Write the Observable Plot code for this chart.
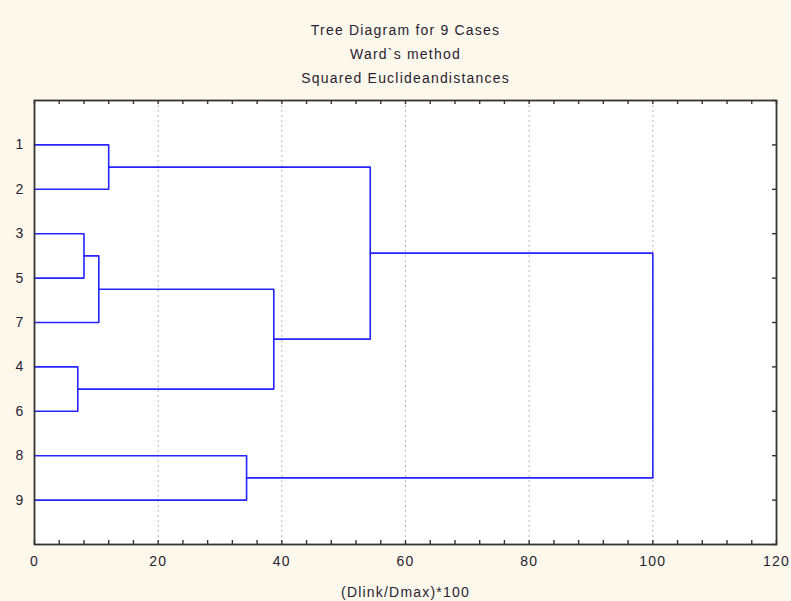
<!DOCTYPE html>
<html>
<head>
<meta charset="utf-8">
<script src="https://cdn.jsdelivr.net/npm/d3@7"></script>
<script src="https://cdn.jsdelivr.net/npm/@observablehq/plot@0.6"></script>
<style>
  html, body { margin: 0; padding: 0; background: #fcf8ec; }
  #chart svg { display: block; }
</style>
</head>
<body>
<div id="chart"></div>
<script>
// ---- data ----
const titleLines = ["Tree Diagram for 9 Cases", "Ward`s method", "Squared Euclideandistances"];
const xLabel = "(Dlink/Dmax)*100";
const leafOrder = ["1", "2", "3", "5", "7", "4", "6", "8", "9"];       // top to bottom
// merges (linkage): child A, child B, linkage distance  (m1..m8 = merge results)
const mergeA      = ["1",  "3", "m2", "4", "m3", "m1", "8",  "m6"];
const mergeB      = ["2",  "5", "7",  "6", "m4", "m5", "9",  "m7"];
const mergeHeight = [12.0, 8.0, 10.4, 7.0, 38.7, 54.3, 34.3, 100];
const xTickLabels = [0, 20, 40, 60, 80, 100, 120];
const xMinorStep = 4;
const gridValues = [20, 40, 60, 80, 100];

// ---- build dendrogram geometry in data units ----
const nodes = new Map();
leafOrder.forEach((name, i) => nodes.set(name, {x: 0, y: i + 1}));
const linkPts = [];
mergeHeight.forEach((h, i) => {
  const a = nodes.get(mergeA[i]), b = nodes.get(mergeB[i]);
  const id = "m" + (i + 1);
  linkPts.push({id, x: a.x, y: a.y}, {id, x: h, y: a.y}, {id, x: h, y: b.y}, {id, x: b.x, y: b.y});
  nodes.set(id, {x: h, y: (a.y + b.y) / 2});
});

const W = 791, H = 601;
const mT = 100, mB = 57, mL = 34, mR = 15;
const innerW = W - mL - mR, innerH = H - mT - mB;
const font = "'Liberation Sans', Arial, sans-serif";
const textColor = "#2a2230";

const chart = Plot.plot({
  width: W, height: H,
  marginTop: mT, marginBottom: mB, marginLeft: mL, marginRight: mR,
  style: {background: "#fcf8ec", fontFamily: font, fontSize: "14px", color: textColor, letterSpacing: "1.2px"},
  x: {domain: [0, 120], axis: null},
  y: {domain: [0, leafOrder.length + 1], reverse: true, axis: null},
  marks: [
    Plot.frame({fill: "white", stroke: null}),
    Plot.ruleX(gridValues, {stroke: "#b8b8b8", strokeDasharray: "2,3", strokeWidth: 1}),
    // inward minor ticks bottom & top
    Plot.tickX(d3.range(0, 121, xMinorStep), {x: d => d, insetTop: innerH - 4, stroke: "#333", strokeWidth: 1.4}),
    Plot.tickX(d3.range(0, 121, xMinorStep), {x: d => d, insetBottom: innerH - 4, stroke: "#333", strokeWidth: 1.4}),
    // inward ticks on right side
    Plot.tickY(d3.range(0, leafOrder.length + 2), {y: d => d, insetLeft: innerW - 4, stroke: "#333", strokeWidth: 1.4}),
    Plot.line(linkPts, {x: "x", y: "y", z: "id", stroke: "#2424ff", strokeWidth: 1.6, curve: "linear"}),
    Plot.frame({stroke: "#333", strokeWidth: 1.8}),
    Plot.axisX({ticks: xTickLabels, tickSize: 0, tickPadding: 12, label: null, fontSize: 14, fill: textColor}),
    Plot.axisY({ticks: d3.range(1, leafOrder.length + 1), tickFormat: i => leafOrder[i - 1], tickSize: 0, tickPadding: 10, label: null, fontSize: 14, fill: textColor}),
    ...titleLines.map((t, i) => Plot.text([t], {text: d => d, frameAnchor: "top", dy: -70 + i * 24, lineAnchor: "middle", fontSize: 14, fill: textColor})),
    Plot.text([xLabel], {text: d => d, frameAnchor: "bottom", dy: 48, lineAnchor: "middle", fontSize: 14, fill: textColor})
  ]
});
document.getElementById("chart").appendChild(chart);
</script>
</body>
</html>
